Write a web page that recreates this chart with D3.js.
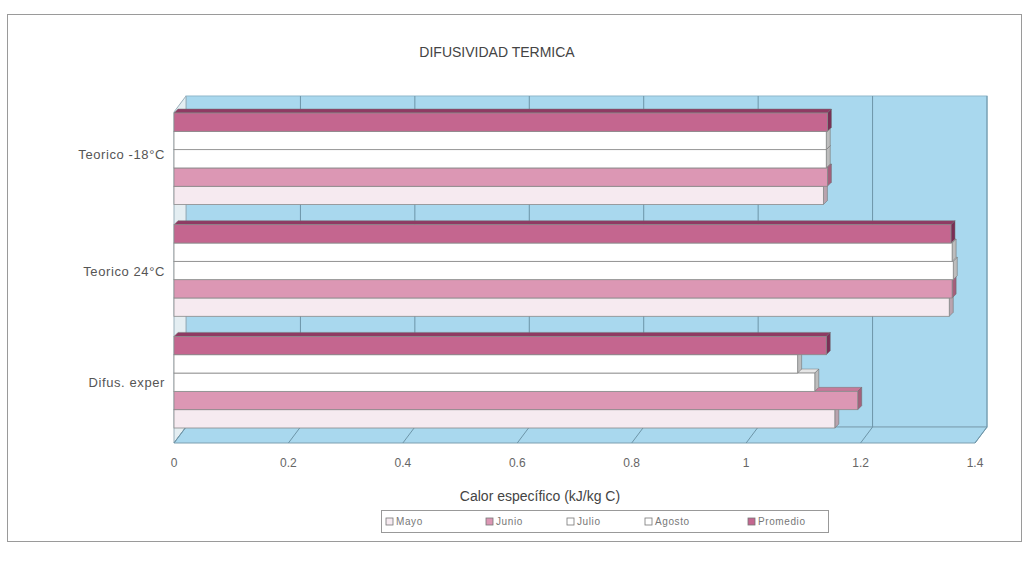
<!DOCTYPE html>
<html><head><meta charset="utf-8">
<script src="https://cdn.jsdelivr.net/npm/d3@7"></script>
<style>body{margin:0;background:#fff}svg{display:block}</style>
</head><body>
<svg id="c" width="1029" height="563"></svg>
<script>
const categories = ["Teorico -18°C", "Teorico 24°C", "Difus. exper"];
const seriesNames = ["Mayo", "Junio", "Julio", "Agosto", "Promedio"];
const mayo     = [1.135, 1.355, 1.155];
const junio    = [1.142, 1.360, 1.195];
const julio    = [1.140, 1.362, 1.120];
const agosto   = [1.140, 1.360, 1.090];
const promedio = [1.142, 1.358, 1.140];
const seriesValues = [mayo, junio, julio, agosto, promedio];
const xTicks = [0, 0.2, 0.4, 0.6, 0.8, 1, 1.2, 1.4];
const xTickLabels = ["0", "0.2", "0.4", "0.6", "0.8", "1", "1.2", "1.4"];
const title = "DIFUSIVIDAD TERMICA";
const xTitle = "Calor específico (kJ/kg C)";

const fills = {Mayo:"#f6eaf0", Junio:"#dc97b4", Julio:"#ffffff", Agosto:"#ffffff", Promedio:"#c4668f"};
const tops  = {Mayo:"#e9d3de", Junio:"#c77a9a", Julio:"#e6e6e6", Agosto:"#e6e6e6", Promedio:"#8f3a63"};
const sides = {Mayo:"#b9a3ae", Junio:"#a4607c", Julio:"#bdbdbd", Agosto:"#bdbdbd", Promedio:"#7a2f55"};

const svg = d3.select("#c");

// frame
svg.append("rect").attr("x",7.5).attr("y",14.5).attr("width",1014).attr("height",527)
  .attr("fill","none").attr("stroke","#9a9a9a").attr("stroke-width",1);

const x = d3.scaleLinear().domain([0,1.4]).range([174,975]);
const y = d3.scaleBand().domain(categories).range([113,428]).paddingInner(0.18).paddingOuter(0);
const ys = d3.scaleBand().domain(seriesNames.slice().reverse()).range([0,y.bandwidth()]).padding(0);

const dx = 12, dy = -16;
const wallTop = 96, floorFront = 443, wallBottom = floorFront + dy;
const x0 = x(0), x1 = x(1.4);

// back wall
svg.append("rect").attr("x",x0+dx).attr("y",wallTop).attr("width",x1-x0).attr("height",wallBottom-wallTop)
  .attr("fill","#a9d8ee").attr("stroke","#8fb8cc");
// left wall
svg.append("polygon").attr("points",[[x0,wallTop-dy],[x0+dx,wallTop],[x0+dx,wallBottom],[x0,floorFront]].join(" "))
  .attr("fill","#e4eef2").attr("stroke","#9ab0bb");
// floor
svg.append("polygon").attr("points",[[x0,floorFront],[x0+dx,wallBottom],[x1+dx,wallBottom],[x1,floorFront]].join(" "))
  .attr("fill","#a9d8ee").attr("stroke","#7d9fb0");

// gridlines
svg.append("g").selectAll("line").data(xTicks.slice(1)).join("line")
  .attr("x1",d=>x(d)+dx).attr("x2",d=>x(d)+dx).attr("y1",wallTop).attr("y2",wallBottom)
  .attr("stroke","#6d95a8").attr("stroke-width",1);
svg.append("g").selectAll("line").data(xTicks).join("line")
  .attr("x1",d=>x(d)).attr("x2",d=>x(d)+dx).attr("y1",floorFront).attr("y2",wallBottom)
  .attr("stroke","#6d95a8").attr("stroke-width",1);

// bars, drawn bottom series first
const bd = 4;
categories.forEach((cat, ci) => {
  const g = svg.append("g");
  seriesNames.forEach((s, si) => {
    const v = seriesValues[si][ci];
    const yy = y(cat) + ys(s), h = ys.bandwidth(), xe = x(v);
    g.append("polygon").attr("points",[[x0,yy],[x0+bd,yy-bd],[xe+bd,yy-bd],[xe,yy]].join(" "))
      .attr("fill",tops[s]).attr("stroke","#777").attr("stroke-width",0.5);
    g.append("polygon").attr("points",[[xe,yy],[xe+bd,yy-bd],[xe+bd,yy+h-bd],[xe,yy+h]].join(" "))
      .attr("fill",sides[s]).attr("stroke","#666").attr("stroke-width",0.5);
    g.append("rect").attr("x",x0).attr("y",yy).attr("width",xe-x0).attr("height",h)
      .attr("fill",fills[s]).attr("stroke","#8a8a8a").attr("stroke-width",0.8);
  });
});

const font = "'Liberation Sans', Arial, sans-serif";
// category labels
svg.append("g").selectAll("text").data(categories).join("text")
  .attr("x",165).attr("y",(d,i)=>y(d)+y.bandwidth()/2 - (i===0?4:(i===1?-1:0))).attr("dy","0.35em")
  .attr("text-anchor","end").attr("font-family",font).attr("font-size",13).attr("letter-spacing",0.6)
  .attr("fill","#555").text(d=>d);
// tick labels
svg.append("g").selectAll("text").data(xTicks).join("text")
  .attr("x",d=>x(d)).attr("y",467).attr("text-anchor","middle")
  .attr("font-family",font).attr("font-size",12).attr("fill","#666")
  .text((d,i)=>xTickLabels[i]);
// title
svg.append("text").attr("x",497).attr("y",57).attr("text-anchor","middle")
  .attr("font-family",font).attr("font-size",14).attr("fill","#444").text(title);
svg.append("text").attr("x",540).attr("y",501).attr("text-anchor","middle")
  .attr("font-family",font).attr("font-size",14).attr("fill","#444").text(xTitle);

// legend
const lg = svg.append("g");
lg.append("rect").attr("x",381.5).attr("y",510.5).attr("width",447).attr("height",22)
  .attr("fill","#fff").attr("stroke","#999");
const lx = [386, 486, 567, 645, 748];
seriesNames.forEach((s,i) => {
  lg.append("rect").attr("x",lx[i]).attr("y",518).attr("width",7).attr("height",7)
    .attr("fill",fills[s]).attr("stroke","#777").attr("stroke-width",0.8);
  lg.append("text").attr("x",lx[i]+10).attr("y",525).attr("font-family",font)
    .attr("font-size",10).attr("fill","#777").attr("letter-spacing",0.6).text(s);
});
</script>
</body></html>
